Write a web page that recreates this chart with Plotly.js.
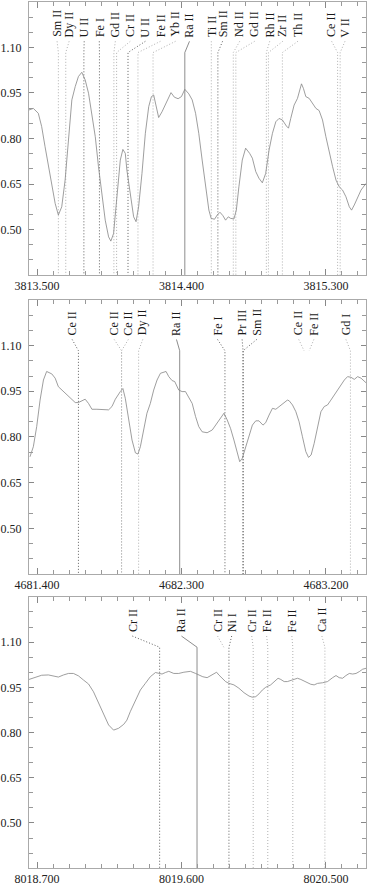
<!DOCTYPE html>
<html>
<head>
<meta charset="utf-8">
<script src="https://cdn.plot.ly/plotly-3.0.1.min.js"></script>
<style>
  html, body { margin: 0; padding: 0; background: #fff; }
  #chart { width: 368px; height: 886px; }
</style>
</head>
<body>
<div id="chart"></div>
<script>
// ---- panel 1 : around Ra II 3814.42 ----
const wave1 = [3813.450, 3813.477, 3813.508, 3813.529, 3813.550, 3813.571, 3813.592, 3813.613, 3813.633, 3813.654,
  3813.675, 3813.696, 3813.717, 3813.738, 3813.758, 3813.779, 3813.800, 3813.821, 3813.842, 3813.863,
  3813.883, 3813.904, 3813.925, 3813.946, 3813.960, 3813.977, 3813.988, 3814.004, 3814.019, 3814.035,
  3814.050, 3814.060, 3814.081, 3814.102, 3814.117, 3814.133, 3814.154, 3814.175, 3814.196, 3814.213,
  3814.227, 3814.242, 3814.258, 3814.279, 3814.300, 3814.335, 3814.356, 3814.379, 3814.400, 3814.421,
  3814.446, 3814.467, 3814.488, 3814.508, 3814.529, 3814.550, 3814.571, 3814.585, 3814.606, 3814.623,
  3814.640, 3814.658, 3814.675, 3814.692, 3814.706, 3814.727, 3814.742, 3814.758, 3814.779, 3814.800,
  3814.825, 3814.842, 3814.863, 3814.883, 3814.904, 3814.925, 3814.946, 3814.967, 3814.988, 3815.008,
  3815.029, 3815.054, 3815.067, 3815.081, 3815.102, 3815.123, 3815.138, 3815.148, 3815.160, 3815.175,
  3815.196, 3815.217, 3815.238, 3815.258, 3815.279, 3815.300, 3815.321, 3815.342, 3815.363, 3815.383,
  3815.404, 3815.425, 3815.446, 3815.460, 3815.477, 3815.498, 3815.519, 3815.550];
const flux1 = [0.894, 0.899, 0.883, 0.839, 0.773, 0.707, 0.641, 0.586, 0.548, 0.575,
  0.663, 0.795, 0.927, 0.971, 1.004, 1.018, 0.993, 0.949, 0.883, 0.806,
  0.707, 0.619, 0.531, 0.476, 0.462, 0.487, 0.553, 0.663, 0.729, 0.764,
  0.751, 0.696, 0.619, 0.542, 0.526, 0.575, 0.685, 0.817, 0.905, 0.938,
  0.943, 0.905, 0.869, 0.888, 0.910, 0.951, 0.936, 0.931, 0.938, 0.962,
  0.947, 0.927, 0.883, 0.817, 0.729, 0.641, 0.564, 0.537, 0.534, 0.548,
  0.557, 0.546, 0.531, 0.542, 0.537, 0.535, 0.564, 0.641, 0.729, 0.768,
  0.751, 0.735, 0.691, 0.669, 0.654, 0.685, 0.762, 0.817, 0.855, 0.866,
  0.861, 0.841, 0.834, 0.866, 0.910, 0.932, 0.960, 0.980, 0.965, 0.938,
  0.932, 0.916, 0.899, 0.892, 0.861, 0.806, 0.751, 0.707, 0.663, 0.641,
  0.630, 0.608, 0.575, 0.564, 0.581, 0.608, 0.630, 0.652];
const xStart1 = 3813.5;
const ions1 = ['Sm II', 'Dy II', 'U II', 'Fe I', 'Gd II', 'Cr II', 'U II', 'Fe II', 'Yb II', 'Ra II',
  'Ti II', 'Sm II', 'Nd II', 'Gd II', 'Rh II', 'Zr II', 'Th II', 'Ce II', 'V II'];
const lineWl1 = [3813.633, 3813.679, 3813.792, 3813.889, 3813.979, 3813.996, 3814.067, 3814.129, 3814.223, 3814.421,
  3814.586, 3814.627, 3814.723, 3814.739, 3814.929, 3814.942, 3815.029, 3815.373, 3815.389];
const labelWl1 = [3813.625, 3813.700, 3813.794, 3813.888, 3813.988, 3814.081, 3814.175, 3814.269, 3814.363, 3814.450,
  3814.586, 3814.656, 3814.763, 3814.856, 3814.950, 3815.031, 3815.125, 3815.336, 3815.419];
const strong1 = [0, 0, 1, 1, 0, 0, 1, 0, 0, 1, 0, 1, 0, 0, 0, 0, 0, 0, 0];
const drawn1 = [1, 1, 1, 1, 1, 1, 1, 1, 1, 1, 1, 1, 1, 1, 1, 1, 1, 1, 1];

// ---- panel 2 : around Ra II 4682.28 ----
const wave2 = [4681.356, 4681.377, 4681.398, 4681.419, 4681.440, 4681.460, 4681.492, 4681.513, 4681.533, 4681.554,
  4681.585, 4681.617, 4681.638, 4681.658, 4681.679, 4681.700, 4681.721, 4681.742, 4681.773, 4681.804,
  4681.846, 4681.867, 4681.888, 4681.919, 4681.935, 4681.950, 4681.971, 4681.992, 4682.013, 4682.029,
  4682.044, 4682.065, 4682.085, 4682.106, 4682.127, 4682.148, 4682.169, 4682.204, 4682.221, 4682.242,
  4682.258, 4682.283, 4682.304, 4682.325, 4682.346, 4682.367, 4682.388, 4682.408, 4682.429, 4682.460,
  4682.492, 4682.513, 4682.533, 4682.565, 4682.585, 4682.606, 4682.627, 4682.648, 4682.663, 4682.679,
  4682.700, 4682.721, 4682.742, 4682.763, 4682.783, 4682.808, 4682.825, 4682.846, 4682.867, 4682.888,
  4682.908, 4682.929, 4682.960, 4682.971, 4682.992, 4683.013, 4683.033, 4683.054, 4683.075, 4683.092,
  4683.108, 4683.127, 4683.148, 4683.169, 4683.190, 4683.210, 4683.231, 4683.252, 4683.273, 4683.294,
  4683.315, 4683.335, 4683.356, 4683.377, 4683.398, 4683.419, 4683.450];
const flux2 = [0.735, 0.768, 0.834, 0.921, 0.987, 1.015, 1.007, 0.993, 0.965, 0.954,
  0.938, 0.924, 0.913, 0.913, 0.919, 0.924, 0.910, 0.891, 0.891, 0.891,
  0.889, 0.900, 0.924, 0.949, 0.959, 0.927, 0.856, 0.790, 0.748, 0.744,
  0.768, 0.823, 0.878, 0.910, 0.954, 0.987, 1.009, 1.015, 0.998, 0.985,
  0.982, 0.954, 0.949, 0.949, 0.927, 0.910, 0.867, 0.834, 0.817, 0.814,
  0.823, 0.839, 0.856, 0.878, 0.856, 0.828, 0.790, 0.746, 0.719, 0.730,
  0.768, 0.806, 0.839, 0.853, 0.853, 0.839, 0.847, 0.872, 0.894, 0.891,
  0.900, 0.910, 0.921, 0.919, 0.905, 0.883, 0.850, 0.801, 0.752, 0.733,
  0.741, 0.779, 0.834, 0.883, 0.900, 0.905, 0.921, 0.938, 0.954, 0.971,
  0.987, 0.998, 0.996, 0.989, 0.998, 0.993, 0.978];
const xStart2 = 4681.4;
const ions2 = ['Ce II', 'Ce II', 'Ce II', 'Dy II', 'Ra II', 'Fe I', 'Pr III', 'Sm II', 'Ce II', 'Fe II', 'Gd I'];
const lineWl2 = [4681.658, 4681.927, 4681.927, 4682.033, 4682.289, 4682.571, 4682.684, 4682.684, 4683.064, 4683.096, 4683.353];
const labelWl2 = [4681.619, 4681.881, 4681.969, 4682.059, 4682.269, 4682.525, 4682.678, 4682.769, 4683.031, 4683.125, 4683.325];
const strong2 = [1, 0, 0, 0, 1, 1, 1, 1, 0, 0, 0];
const drawn2 = [1, 1, 1, 1, 1, 1, 1, 1, 0, 0, 1];

// ---- panel 3 : around Ra II 8019.70 ----
const wave3 = [8018.650, 8018.688, 8018.729, 8018.771, 8018.813, 8018.833, 8018.865, 8018.896, 8018.927, 8018.958,
  8018.990, 8019.021, 8019.052, 8019.083, 8019.115, 8019.146, 8019.177, 8019.208, 8019.240, 8019.260,
  8019.281, 8019.313, 8019.344, 8019.375, 8019.406, 8019.438, 8019.458, 8019.479, 8019.500, 8019.521,
  8019.552, 8019.583, 8019.615, 8019.656, 8019.688, 8019.708, 8019.733, 8019.760, 8019.781, 8019.802,
  8019.819, 8019.833, 8019.854, 8019.875, 8019.896, 8019.927, 8019.958, 8019.990, 8020.021, 8020.042,
  8020.063, 8020.083, 8020.104, 8020.125, 8020.156, 8020.177, 8020.202, 8020.219, 8020.240, 8020.260,
  8020.292, 8020.323, 8020.344, 8020.375, 8020.406, 8020.427, 8020.448, 8020.479, 8020.510, 8020.542,
  8020.563, 8020.583, 8020.604, 8020.625, 8020.646, 8020.667, 8020.688, 8020.708, 8020.729, 8020.750];
const flux3 = [0.976, 0.982, 0.990, 0.991, 0.985, 0.984, 0.991, 0.996, 0.996, 0.988,
  0.974, 0.961, 0.935, 0.897, 0.858, 0.825, 0.808, 0.814, 0.827, 0.841,
  0.869, 0.908, 0.941, 0.963, 0.985, 0.999, 0.996, 0.994, 0.999, 1.003,
  0.996, 0.996, 1.000, 1.003, 0.996, 0.991, 0.985, 0.982, 0.988, 0.996,
  1.000, 0.991, 0.980, 0.969, 0.963, 0.958, 0.947, 0.932, 0.921, 0.917,
  0.919, 0.928, 0.941, 0.950, 0.958, 0.969, 0.980, 0.976, 0.969, 0.969,
  0.974, 0.980, 0.976, 0.969, 0.960, 0.958, 0.963, 0.965, 0.969, 0.982,
  0.989, 0.982, 0.980, 0.989, 0.996, 0.994, 0.996, 1.002, 1.010, 1.013];
const xStart3 = 8018.7;
const ions3 = ['Cr II', 'Ra II', 'Cr II', 'Ni I', 'Cr II', 'Fe II', 'Fe II', 'Ca II'];
const lineWl3 = [8019.464, 8019.697, 8019.864, 8019.896, 8020.047, 8020.138, 8020.294, 8020.494];
const labelWl3 = [8019.294, 8019.600, 8019.825, 8019.913, 8020.038, 8020.131, 8020.288, 8020.475];
const strong3 = [1, 1, 0, 1, 0, 0, 0, 0];
const drawn3 = [1, 1, 0, 1, 1, 1, 1, 1];

const yTick0 = 0.5;   // labelled every 0.15, minor every 0.05

const FONT = '"Liberation Serif", "Times New Roman", Times, serif';
const Y_MIN = 0.3505, Y_MAX = 1.2495;
const LABEL_Y = 1.13, CONN_TOP = 1.12, CONN_BOT = 1.083;

const panels = [
  {wave: wave1, flux: flux1, start: xStart1, ions: ions1, lineWl: lineWl1, labelWl: labelWl1, strong: strong1, drawn: drawn1, domain: [0.6848, 1]},
  {wave: wave2, flux: flux2, start: xStart2, ions: ions2, lineWl: lineWl2, labelWl: labelWl2, strong: strong2, drawn: drawn2, domain: [0.3395, 0.6559]},
  {wave: wave3, flux: flux3, start: xStart3, ions: ions3, lineWl: lineWl3, labelWl: labelWl3, strong: strong3, drawn: drawn3, domain: [0, 0.3129]}
];

const styles = {
  weak:   {color: '#b0b0b0', width: 1, dash: '1px,2px'},
  strong: {color: '#606060', width: 1, dash: '1px,2px'},
  ra:     {color: '#707070', width: 0.8, dash: 'solid'}
};

var traces = [];
var annotations = [];
var layout = {
  width: 368, height: 886,
  margin: {l: 29, r: 2, t: 2, b: 18},
  paper_bgcolor: '#fff', plot_bgcolor: '#fff',
  showlegend: false,
  font: {family: FONT, size: 12, color: '#222'}
};

panels.forEach(function(p, i) {
  var sfx = i === 0 ? '' : String(i + 1);
  var xa = 'x' + sfx, ya = 'y' + sfx;

  // line markers: connector from label to line, then down to the axis
  var groups = {weak: {x: [], y: []}, strong: {x: [], y: []}, ra: {x: [], y: []}};
  p.ions.forEach(function(ion, j) {
    var key = ion === 'Ra II' ? 'ra' : (p.strong[j] ? 'strong' : 'weak');
    var g = groups[key];
    g.x.push(p.labelWl[j], p.lineWl[j]);
    g.y.push(CONN_TOP, CONN_BOT);
    if (p.drawn[j]) { g.x.push(p.lineWl[j]); g.y.push(Y_MIN); }
    g.x.push(null); g.y.push(null);

    annotations.push({
      x: p.labelWl[j], y: LABEL_Y, xref: xa, yref: ya,
      text: ion, textangle: -90, showarrow: false,
      xanchor: 'center', yanchor: 'bottom', borderpad: 0,
      font: {family: FONT, size: 12, color: '#1a1a1a'}
    });
  });
  ['weak', 'strong', 'ra'].forEach(function(k) {
    traces.push({x: groups[k].x, y: groups[k].y, xaxis: xa, yaxis: ya,
      mode: 'lines', line: styles[k], hoverinfo: 'skip', connectgaps: false});
  });

  traces.push({x: p.wave, y: p.flux, xaxis: xa, yaxis: ya, mode: 'lines',
    line: {color: '#858585', width: 0.8}, hoverinfo: 'skip'});

  layout['xaxis' + sfx] = {
    anchor: ya, range: [p.start - 0.05, p.start + 2.05],
    tickmode: 'linear', tick0: p.start, dtick: 0.9, tickformat: '.3f',
    ticks: 'inside', ticklen: 6, tickcolor: '#888', tickwidth: 1,
    minor: {ticks: 'inside', tick0: p.start, dtick: 0.1, ticklen: 4, tickcolor: '#999'},
    showline: true, linecolor: '#aaa', linewidth: 1, mirror: 'ticks',
    showgrid: false, zeroline: false, ticklabelstandoff: 0,
    tickfont: {family: FONT, size: 12, color: '#222'}
  };
  layout['yaxis' + sfx] = {
    anchor: xa, domain: p.domain, range: [Y_MIN, Y_MAX],
    tickmode: 'linear', tick0: yTick0, dtick: 0.15, tickformat: '.2f',
    ticks: 'inside', ticklen: 5, tickcolor: '#888', tickwidth: 1,
    minor: {ticks: 'inside', tick0: yTick0, dtick: 0.05, ticklen: 4, tickcolor: '#999'},
    showline: true, linecolor: '#aaa', linewidth: 1, mirror: 'ticks',
    showgrid: false, zeroline: false, ticklabelstandoff: 4,
    tickfont: {family: FONT, size: 12, color: '#222'}
  };
});

layout.annotations = annotations;

Plotly.newPlot('chart', traces, layout, {displayModeBar: false, staticPlot: true});
</script>
</body>
</html>
